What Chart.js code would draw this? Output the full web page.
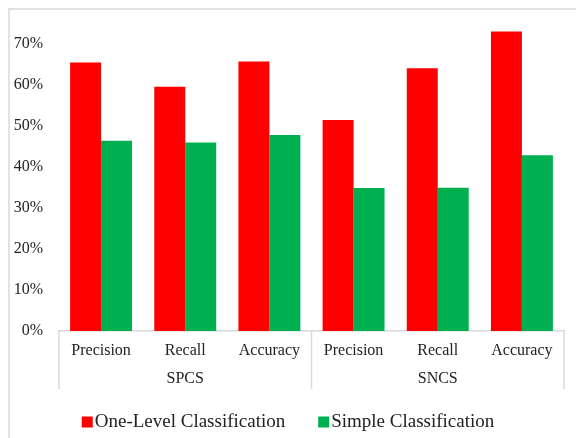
<!DOCTYPE html>
<html>
<head>
<meta charset="utf-8">
<script src="https://cdn.jsdelivr.net/npm/chart.js@4.4.0/dist/chart.umd.min.js"></script>
<style>
  html, body { margin: 0; padding: 0; background: #fff; overflow: hidden; }
</style>
</head>
<body>
<canvas id="chart" width="576" height="438"></canvas>
<script>
// Data
const metrics = ["Precision", "Recall", "Accuracy", "Precision", "Recall", "Accuracy"];
const groups = ["SPCS", "SNCS"];
const oneLevel = [0.654, 0.595, 0.656, 0.514, 0.640, 0.729];
const simple = [0.463, 0.459, 0.477, 0.348, 0.349, 0.428];
const yTicks = [0, 0.1, 0.2, 0.3, 0.4, 0.5, 0.6, 0.7];

const serif = "'Liberation Serif', 'Times New Roman', serif";
Chart.defaults.font.family = serif;
Chart.defaults.color = "#222";

// Outer frame (only top and left edges show in the picture)
const frame = {
  id: "frame",
  beforeDraw(chart) {
    const { ctx } = chart;
    ctx.save();
    ctx.strokeStyle = "#d9d9d9";
    ctx.lineWidth = 1.5;
    ctx.beginPath();
    ctx.moveTo(9, chart.height);
    ctx.lineTo(9, 9);
    ctx.lineTo(chart.width, 9);
    ctx.stroke();
    ctx.restore();
  },
};

// Draws the two-level category frame and the group names under the metrics
const groupAxis = {
  id: "groupAxis",
  afterDraw(chart) {
    const x = chart.scales.x;
    const { ctx, chartArea } = chart;
    const perGroup = metrics.length / groups.length;
    const step = x.getPixelForValue(1) - x.getPixelForValue(0);
    const bottom = chartArea.bottom + 58;
    ctx.save();
    ctx.strokeStyle = "#d9d9d9";
    ctx.lineWidth = 1.5;
    for (let g = 0; g <= groups.length; g++) {
      const px = x.getPixelForValue(g * perGroup) - step / 2;
      ctx.beginPath();
      ctx.moveTo(px, chartArea.bottom);
      ctx.lineTo(px, bottom);
      ctx.stroke();
    }
    ctx.fillStyle = "#222";
    ctx.font = "16px " + serif;
    ctx.textAlign = "center";
    ctx.textBaseline = "middle";
    groups.forEach((name, g) => {
      const mid = (x.getPixelForValue(g * perGroup) + x.getPixelForValue(g * perGroup + perGroup - 1)) / 2;
      ctx.fillText(name, mid, chartArea.bottom + 48);
    });
    ctx.restore();
  },
};

// Compact legend: small square right next to the text, like the original
const compactLegend = {
  id: "compactLegend",
  afterDraw(chart) {
    const { ctx } = chart;
    const box = 11, gap = 2, itemGap = 33, y = 422;
    ctx.save();
    ctx.font = "19px " + serif;
    ctx.textBaseline = "middle";
    const items = chart.data.datasets.map((ds) => ({
      text: ds.label,
      color: ds.backgroundColor,
      w: box + gap + ctx.measureText(ds.label).width,
    }));
    const total = items.reduce((s, it) => s + it.w, 0) + itemGap * (items.length - 1);
    let x = (chart.width - total) / 2;
    items.forEach((it) => {
      ctx.fillStyle = it.color;
      ctx.fillRect(x, y - box / 2, box, box);
      ctx.fillStyle = "#222";
      ctx.fillText(it.text, x + box + gap, y);
      x += it.w + itemGap;
    });
    ctx.restore();
  },
};

const ctx = document.getElementById("chart").getContext("2d");
new Chart(ctx, {
  type: "bar",
  data: {
    labels: metrics,
    datasets: [
      {
        label: "One-Level Classification",
        data: oneLevel,
        backgroundColor: "#ff0000",
        categoryPercentage: 0.736,
        barPercentage: 1.0,
      },
      {
        label: "Simple Classification",
        data: simple,
        backgroundColor: "#00b050",
        categoryPercentage: 0.736,
        barPercentage: 1.0,
      },
    ],
  },
  options: {
    responsive: false,
    animation: false,
    layout: { padding: { left: 10, right: 12, top: 23, bottom: 43 } },
    scales: {
      y: {
        min: 0,
        max: 0.75,
        afterFit(scale) { scale.width = 49; },
        afterBuildTicks(scale) { scale.ticks = yTicks.map((v) => ({ value: v })); },
        grid: { display: false },
        border: { display: false },
        ticks: {
          font: { size: 16 },
          color: "#222",
          padding: 8,
          callback: (v) => Math.round(v * 100) + "%",
        },
      },
      x: {
        afterFit(scale) { scale.height = 64; },
        grid: { display: false },
        border: { display: true, color: "#d9d9d9", width: 1.5 },
        ticks: { font: { size: 16 }, color: "#222", padding: 2, maxRotation: 0 },
      },
    },
    plugins: {
      legend: { display: false },
      tooltip: { enabled: false },
    },
  },
  plugins: [frame, groupAxis, compactLegend],
});
</script>
</body>
</html>
